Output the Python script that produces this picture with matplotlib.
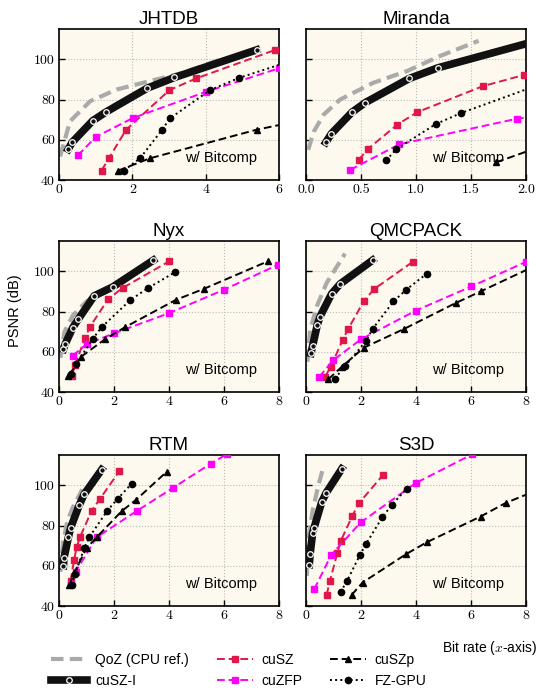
import matplotlib
matplotlib.use('Agg')
import matplotlib.pyplot as plt
from matplotlib.lines import Line2D

plt.rcParams['font.family'] = ['Liberation Sans', 'DejaVu Sans']
plt.rcParams['mathtext.fontset'] = 'cm'

# data: (bit rate, PSNR) per method
jhtdb = {
    'QoZ':    ([0.03, 0.3, 0.85, 1.57, 2.48, 3.39, 4.3, 5.2], [51.7, 69.2, 79.2, 85, 89.2, 93.3, 99.2, 103.3]),
    'cuSZ-I': ([0.25, 0.36, 0.92, 1.28, 2.41, 3.15, 5.39], [55.3, 58.8, 69.5, 73.8, 85.7, 91, 104.7]),
    'cuSZ':   ([1.16, 1.36, 1.83, 3.01, 3.74, 5.9], [44.7, 50.8, 65, 84.7, 90.5, 104.7]),
    'cuZFP':  ([0.51, 1.01, 2.01, 4.0, 5.99], [52.2, 61.5, 70.8, 83.8, 95.5]),
    'FZ-GPU': ([1.77, 2.21, 2.8, 3.03, 4.12, 4.9, 6.3], [44.7, 50.8, 64.7, 70.7, 84.7, 90.7, 99]),
    'cuSZp':  ([1.62, 2.48, 5.39, 6.5], [44.7, 50.8, 65, 69.2]),
}
miranda = {
    'QoZ':    ([0.02, 0.07, 0.16, 0.31, 0.61, 0.92, 1.22, 1.57], [55, 64, 72.5, 80, 88.3, 94.2, 101.7, 109.2]),
    'cuSZ-I': ([0.18, 0.23, 0.42, 0.54, 0.94, 1.2, 2.05], [58.7, 63, 73.8, 78.5, 90.5, 95.8, 108.5]),
    'cuSZ':   ([0.48, 0.56, 0.83, 1.01, 1.61, 1.98], [50, 55.3, 67.5, 73.7, 86.7, 92.2]),
    'cuZFP':  ([0.4, 0.85, 1.92, 2.1], [45, 57.8, 70.5, 71.6]),
    'FZ-GPU': ([0.73, 0.82, 1.18, 1.41, 2.05], [49.8, 55.3, 67.8, 73.3, 86]),
    'cuSZp':  ([1.73, 2.1], [48.8, 56]),
}
nyx = {
    'QoZ':    ([0.05, 0.2, 0.5, 1.0, 1.9], [57, 70, 78, 85, 93]),
    'cuSZ-I': ([0.16, 0.22, 0.5, 0.7, 1.28, 1.95, 3.43], [61.3, 63.7, 72, 76.2, 87.8, 92.2, 105.5]),
    'cuSZ':   ([0.46, 0.58, 0.94, 1.13, 1.79, 2.31, 4.01], [47.8, 53.3, 66.7, 72.5, 86.2, 91.7, 105]),
    'cuZFP':  ([0.5, 1.0, 2.01, 4.0, 5.99, 7.97], [58, 63.8, 69.2, 79.2, 90.8, 103.3]),
    'FZ-GPU': ([0.42, 0.62, 1.22, 1.55, 2.6, 3.24, 4.21], [48.7, 53.8, 66.3, 72.2, 85.8, 91.7, 99.5]),
    'cuSZp':  ([0.34, 0.8, 1.67, 2.4, 4.25, 5.27, 7.6], [47.8, 57.5, 66.2, 72.2, 85.8, 91.3, 105]),
}
qmcpack = {
    'QoZ':    ([0.05, 0.15, 0.39, 0.75, 1.42], [55, 70.8, 82.5, 94.2, 108.8]),
    'cuSZ-I': ([0.18, 0.24, 0.41, 0.51, 0.93, 1.24, 2.42], [59.2, 62.8, 73.3, 77.5, 88.8, 93.7, 105.5]),
    'cuSZ':   ([0.69, 0.9, 1.33, 1.54, 2.11, 2.48, 3.88], [47.5, 52.5, 65.8, 71.5, 85.3, 91.2, 104.7]),
    'cuZFP':  ([0.48, 0.99, 2.0, 4.0, 6.02, 8.0], [47.5, 55.8, 66.2, 80.5, 92.5, 104.7]),
    'FZ-GPU': ([1.05, 1.42, 2.18, 2.42, 3.18, 3.64, 4.39], [46.7, 52.8, 65.3, 71.3, 85, 90.8, 98.8]),
    'cuSZp':  ([0.81, 1.3, 2.1, 3.56, 5.44, 6.35, 8.3], [46.3, 52.5, 62, 71.3, 84.2, 90, 102.5]),
}
rtm = {
    'QoZ':    ([0.05, 0.15, 0.3, 0.5, 0.85], [57, 72, 82, 89, 98]),
    'cuSZ-I': ([0.16, 0.18, 0.34, 0.42, 0.73, 0.91, 1.55], [60, 63.8, 74.2, 78.8, 90, 95.5, 107.8]),
    'cuSZ':   ([0.42, 0.55, 0.64, 0.76, 1.19, 1.49, 2.19], [52.5, 63, 69.2, 74.2, 87.5, 93.3, 107]),
    'cuZFP':  ([0.42, 0.6, 1.37, 2.82, 4.15, 5.52, 6.1], [50.8, 57, 74.2, 87.2, 98.8, 110.8, 115.5]),
    'FZ-GPU': ([0.46, 0.58, 0.92, 1.1, 1.76, 2.13, 2.64], [50.5, 55.8, 68.8, 74.2, 87.5, 93.3, 100.8]),
    'cuSZp':  ([0.38, 0.54, 1.0, 1.37, 2.28, 2.8, 3.91], [50.5, 56.2, 68.8, 74.2, 87.2, 92.8, 106.7]),
}
s3d = {
    'QoZ':    ([0.03, 0.1, 0.25, 0.45, 0.65], [55, 75, 88, 100, 110]),
    'cuSZ-I': ([0.12, 0.15, 0.24, 0.29, 0.57, 0.73, 1.3], [60.5, 65.8, 76.2, 78.7, 91.7, 96.2, 108.2]),
    'cuSZ':   ([0.75, 0.87, 1.14, 1.26, 1.69, 1.93, 2.81], [45.5, 52.5, 66.3, 72.2, 85, 91.2, 105.3]),
    'cuZFP':  ([0.3, 0.92, 2.0, 4.0, 6.05], [48.3, 65.5, 81.7, 101.2, 115.5]),
    'FZ-GPU': ([1.26, 1.5, 1.96, 2.18, 2.78, 3.12, 3.66], [47, 52.7, 65.3, 70.8, 84.2, 90.3, 98.3]),
    'cuSZp':  ([1.66, 2.06, 3.64, 4.39, 6.35, 7.27, 8.3], [45.5, 51.7, 65.8, 71.7, 84.5, 91.3, 97]),
}

datasets = ['JHTDB', 'Miranda', 'Nyx', 'QMCPACK', 'RTM', 'S3D']
all_data = [jhtdb, miranda, nyx, qmcpack, rtm, s3d]
xlims = [6, 2, 8, 8, 8, 8]
xticks = [[0, 2, 4, 6], [0.0, 0.5, 1.0, 1.5, 2.0], [0, 2, 4, 6, 8], [0, 2, 4, 6, 8], [0, 2, 4, 6, 8], [0, 2, 4, 6, 8]]
yticks = [40, 60, 80, 100]

styles = {
    'QoZ':    dict(color='#aaaaaa', ls=(0, (3, 1.5)), lw=3, marker=None, zorder=2),
    'cuSZ-I': dict(color='#111111', ls='-', lw=5.5, marker='o', ms=4, mfc='#111111', mec='white', mew=0.9, zorder=3),
    'cuSZ':   dict(color='#e0174a', ls=(0, (4, 2)), lw=1.4, marker='s', ms=4.5, zorder=4),
    'cuZFP':  dict(color='#ff00ff', ls=(0, (4, 2)), lw=1.4, marker='s', ms=4.5, zorder=4),
    'FZ-GPU': dict(color='black', ls=':', lw=1.4, marker='o', ms=4.5, zorder=4),
    'cuSZp':  dict(color='black', ls=(0, (4, 2)), lw=1.4, marker='^', ms=4.5, zorder=4),
}

fig = plt.figure(figsize=(5.39, 6.95), dpi=100)
lefts = [0.1095, 0.5677]
bottoms = [0.741, 0.436, 0.128]
w, h = 0.408, 0.217

for i, name in enumerate(datasets):
    ax = fig.add_axes([lefts[i % 2], bottoms[i // 2], w, h])
    ax.set_facecolor('#fdf9ee')
    for method, (xs, ys) in all_data[i].items():
        ax.plot(xs, ys, **styles[method])
    ax.set_xlim(0, xlims[i])
    ax.set_ylim(40, 115)
    if xlims[i] == 2:
        xl = ['%.1f' % t for t in xticks[i]]
    else:
        xl = [str(t) for t in xticks[i]]
    ax.set_xticks(xticks[i], labels=xl, fontfamily='cmr10', fontsize=10)
    if i % 2 == 0:
        ax.set_yticks(yticks, labels=[str(t) for t in yticks], fontfamily='cmr10', fontsize=10)
    else:
        ax.set_yticks(yticks, labels=[])
    ax.tick_params(direction='in', length=4, width=1, pad=3)
    ax.grid(True, color='#bbbbbb', ls=':', lw=0.8)
    ax.set_axisbelow(True)
    for s in ax.spines.values():
        s.set_linewidth(1.2)
    ax.set_title(name, fontsize=13.5, pad=4)
    ax.text(0.9, 0.1, 'w/ Bitcomp', transform=ax.transAxes, ha='right', va='bottom', fontsize=10.5, zorder=6)

fig.text(0.028, 0.553, 'PSNR (dB)', rotation=90, ha='center', va='center', fontsize=10.5)
fig.text(0.997, 0.068, 'Bit rate ($x$-axis)', ha='right', va='center', fontsize=10)

order = ['QoZ', 'cuSZ-I', 'cuSZ', 'cuZFP', 'cuSZp', 'FZ-GPU']
labels = ['QoZ (CPU ref.)', 'cuSZ-I', 'cuSZ', 'cuZFP', 'cuSZp', 'FZ-GPU']
handles = [Line2D([], [], **{k: v for k, v in styles[m].items() if k != 'zorder'}) for m in order]
fig.legend(handles, labels, ncol=3, loc='center', bbox_to_anchor=(0.4425, 0.035), frameon=False,
           fontsize=10, handlelength=2.6, columnspacing=2.0, labelspacing=0.5, handletextpad=0.6)

plt.savefig('out.png', dpi=100)
